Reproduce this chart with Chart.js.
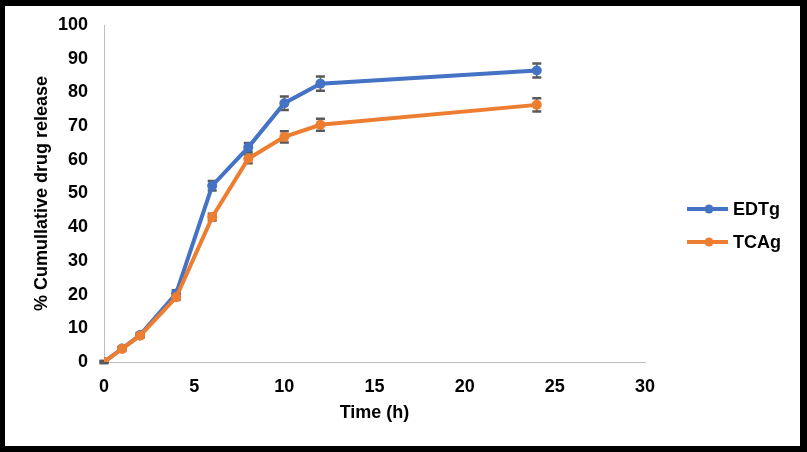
<!DOCTYPE html>
<html lang="en">
<head>
    <meta charset="UTF-8">
    <title>Cumulative drug release</title>
    <script src="https://cdn.jsdelivr.net/npm/chart.js@4.4.0/dist/chart.umd.min.js"></script>
    <style>
        body {
            margin: 0;
            background: #fff;
        }
        .frame {
            position: absolute;
            left: 0;
            top: 0;
            width: 807px;
            height: 452px;
            box-sizing: border-box;
            border-style: solid;
            border-color: #000;
            border-width: 6px 7px 6px 5px;
            background: #fff;
        }
        canvas {
            display: block;
        }
    </style>
</head>
<body>
    <div class="frame">
        <canvas id="release-chart" width="795" height="440"></canvas>
    </div>
    <script>
        const timeHours = [0, 1, 2, 4, 6, 8, 10, 12, 24];
        const edtgRelease = [0, 4, 8, 20.3, 52.3, 63.7, 76.8, 82.6, 86.5];
        const edtgError = [0.3, 0.5, 0.6, 1, 1.4, 1.3, 2, 2.1, 2.1];
        const tcagRelease = [0, 3.9, 7.8, 19.2, 43, 60.3, 66.8, 70.4, 76.3];
        const tcagError = [0.3, 0.4, 0.5, 0.8, 1, 1.3, 1.7, 1.8, 2];
        const seriesNames = ['EDTg', 'TCAg'];

        const font = { family: "'Liberation Sans', Arial, sans-serif", size: 18, weight: 'bold' };

        function points(values) {
            return timeHours.map((t, i) => ({ x: t, y: values[i] }));
        }

        // vertical error bars with caps, drawn behind the lines
        const errorBars = {
            id: 'errorBars',
            beforeDatasetsDraw(chart) {
                const ctx = chart.ctx;
                const y = chart.scales.y;
                ctx.save();
                ctx.strokeStyle = '#595959';
                chart.data.datasets.forEach((ds, di) => {
                    const meta = chart.getDatasetMeta(di);
                    meta.data.forEach((pt, i) => {
                        const err = ds.errors[i];
                        const v = ds.data[i].y;
                        const top = y.getPixelForValue(v + err);
                        const bot = y.getPixelForValue(v - err);
                        ctx.lineWidth = 1.5;
                        ctx.beginPath();
                        ctx.moveTo(pt.x, top);
                        ctx.lineTo(pt.x, bot);
                        ctx.stroke();
                        ctx.lineWidth = 2.5;
                        ctx.beginPath();
                        ctx.moveTo(pt.x - 4.5, top);
                        ctx.lineTo(pt.x + 4.5, top);
                        ctx.moveTo(pt.x - 4.5, bot);
                        ctx.lineTo(pt.x + 4.5, bot);
                        ctx.stroke();
                    });
                });
                ctx.restore();
            }
        };

        // legend on the right, line with marker then label
        const sideLegend = {
            id: 'sideLegend',
            afterDraw(chart) {
                const ctx = chart.ctx;
                ctx.save();
                chart.data.datasets.forEach((ds, i) => {
                    const cy = 203 + i * 33;
                    ctx.strokeStyle = ds.borderColor;
                    ctx.lineWidth = 4;
                    ctx.beginPath();
                    ctx.moveTo(682, cy);
                    ctx.lineTo(723, cy);
                    ctx.stroke();
                    ctx.fillStyle = ds.borderColor;
                    ctx.beginPath();
                    ctx.arc(704, cy, 4.5, 0, Math.PI * 2);
                    ctx.fill();
                    ctx.fillStyle = '#000';
                    ctx.font = 'bold 18px ' + font.family;
                    ctx.textBaseline = 'middle';
                    ctx.fillText(ds.label, 728, cy + 1);
                });
                ctx.restore();
            }
        };

        const ctx = document.getElementById('release-chart').getContext('2d');
        new Chart(ctx, {
            type: 'line',
            data: {
                datasets: [{
                    label: seriesNames[0],
                    data: points(edtgRelease),
                    errors: edtgError,
                    borderColor: '#4472C4',
                    backgroundColor: '#4472C4',
                    borderWidth: 4,
                    pointRadius: 5,
                    pointBorderWidth: 0,
                    order: 1
                }, {
                    label: seriesNames[1],
                    data: points(tcagRelease),
                    errors: tcagError,
                    borderColor: '#ED7D31',
                    backgroundColor: '#ED7D31',
                    borderWidth: 4,
                    pointRadius: 5,
                    pointBorderWidth: 0,
                    order: 0
                }]
            },
            options: {
                responsive: false,
                animation: false,
                layout: { padding: { left: 22, right: 155, top: 12, bottom: 18 } },
                plugins: {
                    legend: { display: false },
                    tooltip: { enabled: false }
                },
                scales: {
                    x: {
                        type: 'linear',
                        min: 0,
                        max: 30,
                        ticks: { stepSize: 5, color: '#000', font: font, padding: 14, maxRotation: 0 },
                        grid: { color: 'transparent', drawTicks: false },
                        border: { color: '#bfbfbf', width: 1 },
                        title: { display: true, text: 'Time (h)', color: '#000', font: font },
                        afterFit(scale) { scale.height = 66; }
                    },
                    y: {
                        min: 0,
                        max: 100,
                        ticks: { stepSize: 10, color: '#000', font: font, padding: 16 },
                        grid: { color: 'transparent', drawTicks: false },
                        border: { color: '#bfbfbf', width: 1 },
                        title: { display: true, text: '% Cumullative drug release', color: '#000', font: font },
                        afterFit(scale) {
                            scale.width = 77;
                            scale.paddingTop = 19;
                        }
                    }
                }
            },
            plugins: [errorBars, sideLegend]
        });
    </script>
</body>
</html>
